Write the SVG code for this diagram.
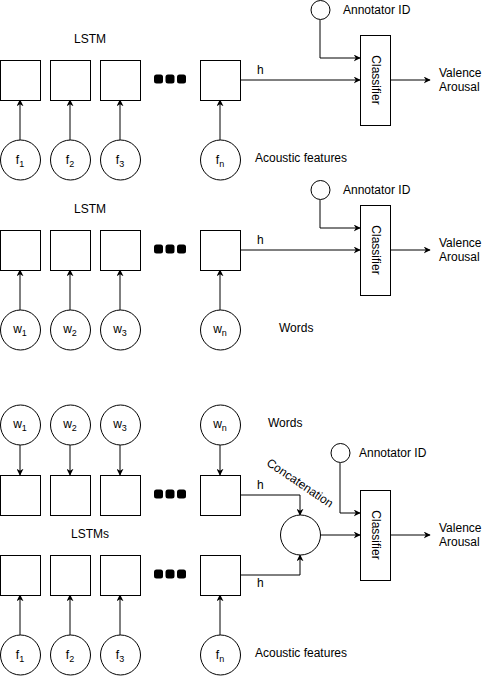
<svg xmlns="http://www.w3.org/2000/svg" width="482" height="676" viewBox="0 0 482 676">
<style>
.b{fill:#fff;stroke:#000;stroke-width:1}
.c{fill:#fff;stroke:#000;stroke-width:1}
.l{fill:none;stroke:#000;stroke-width:1}
.t{font-family:"Liberation Sans",Arial,sans-serif;font-size:12px;fill:#000}
.m{text-anchor:middle}
.d{fill:#000}
</style>
<defs>
<marker id="ah" viewBox="0 0 10 10" refX="9" refY="5" markerWidth="7" markerHeight="7" markerUnits="userSpaceOnUse" orient="auto">
<path d="M0,0 L10,5 L0,10 L3,5 Z" fill="#000"/>
</marker>
<g id="dots"><rect x="0" y="0" width="9" height="9" rx="2.5" class="d"/><rect x="11.5" y="0" width="9" height="9" rx="2.5" class="d"/><rect x="23" y="0" width="9" height="9" rx="2.5" class="d"/></g>
</defs>
<rect width="482" height="676" fill="#fff"/>

<g id="connectors">
<!-- section 1 -->
<path class="l" d="M20,140 V100" marker-end="url(#ah)"/>
<path class="l" d="M70,140 V100" marker-end="url(#ah)"/>
<path class="l" d="M120,140 V100" marker-end="url(#ah)"/>
<path class="l" d="M220,140 V100" marker-end="url(#ah)"/>
<path class="l" d="M240,80 H360" marker-end="url(#ah)"/>
<path class="l" d="M320,20 V58 H360" marker-end="url(#ah)"/>
<path class="l" d="M390,80 H430" marker-end="url(#ah)"/>
<!-- section 2 -->
<path class="l" d="M20,310 V270" marker-end="url(#ah)"/>
<path class="l" d="M70,310 V270" marker-end="url(#ah)"/>
<path class="l" d="M120,310 V270" marker-end="url(#ah)"/>
<path class="l" d="M220,310 V270" marker-end="url(#ah)"/>
<path class="l" d="M240,250 H360" marker-end="url(#ah)"/>
<path class="l" d="M320,200 V228 H360" marker-end="url(#ah)"/>
<path class="l" d="M390,250 H430" marker-end="url(#ah)"/>
<!-- section 3 -->
<path class="l" d="M20,445 V475" marker-end="url(#ah)"/>
<path class="l" d="M70,445 V475" marker-end="url(#ah)"/>
<path class="l" d="M120,445 V475" marker-end="url(#ah)"/>
<path class="l" d="M220,445 V475" marker-end="url(#ah)"/>
<path class="l" d="M20,635 V595" marker-end="url(#ah)"/>
<path class="l" d="M70,635 V595" marker-end="url(#ah)"/>
<path class="l" d="M120,635 V595" marker-end="url(#ah)"/>
<path class="l" d="M220,635 V595" marker-end="url(#ah)"/>
<path class="l" d="M240,495 H300 V515" marker-end="url(#ah)"/>
<path class="l" d="M240,575 H300 V555" marker-end="url(#ah)"/>
<path class="l" d="M320,535 H360" marker-end="url(#ah)"/>
<path class="l" d="M340,463 V513 H360" marker-end="url(#ah)"/>
<path class="l" d="M390,535 H430" marker-end="url(#ah)"/>
</g>

<!-- Section 1 -->
<g id="s1-lstm">
<text class="t m" x="90" y="43">LSTM</text>
<rect class="b" x="0.5" y="60.5" width="40" height="40"/>
<rect class="b" x="50.5" y="60.5" width="40" height="40"/>
<rect class="b" x="100.5" y="60.5" width="40" height="40"/>
<use href="#dots" x="154" y="74.5"/>
<rect class="b" x="200.5" y="60.5" width="40" height="40"/>
</g>
<g id="s1-f1"><circle class="c" cx="20.5" cy="160" r="20"/><text class="t m" x="20" y="164">f<tspan font-size="9" dy="3">1</tspan></text></g>
<g id="s1-f2"><circle class="c" cx="70.5" cy="160" r="20"/><text class="t m" x="70" y="164">f<tspan font-size="9" dy="3">2</tspan></text></g>
<g id="s1-f3"><circle class="c" cx="120.5" cy="160" r="20"/><text class="t m" x="120" y="164">f<tspan font-size="9" dy="3">3</tspan></text></g>
<g id="s1-fn"><circle class="c" cx="220.5" cy="160" r="20"/><text class="t m" x="220" y="164">f<tspan font-size="9" dy="3">n</tspan></text></g>
<text class="t" x="255" y="162">Acoustic features</text>
<text class="t" x="257" y="74">h</text>
<g id="s1-ann"><circle class="c" cx="320.5" cy="10" r="9.5"/><text class="t" x="343" y="14">Annotator ID</text></g>
<g id="s1-cls"><rect class="b" x="360.5" y="35.5" width="30" height="90"/><text class="t m" transform="translate(375.5,80) rotate(90)" y="4">Classifier</text></g>
<g id="s1-out"><text class="t" x="439" y="77">Valence</text><text class="t" x="439" y="91">Arousal</text></g>

<!-- Section 2 -->
<g id="s2-lstm">
<text class="t m" x="90" y="213">LSTM</text>
<rect class="b" x="0.5" y="230.5" width="40" height="40"/>
<rect class="b" x="50.5" y="230.5" width="40" height="40"/>
<rect class="b" x="100.5" y="230.5" width="40" height="40"/>
<use href="#dots" x="154" y="244.5"/>
<rect class="b" x="200.5" y="230.5" width="40" height="40"/>
</g>
<g id="s2-w1"><circle class="c" cx="20.5" cy="330" r="20"/><text class="t m" x="20" y="333">w<tspan font-size="9" dy="3">1</tspan></text></g>
<g id="s2-w2"><circle class="c" cx="70.5" cy="330" r="20"/><text class="t m" x="70" y="333">w<tspan font-size="9" dy="3">2</tspan></text></g>
<g id="s2-w3"><circle class="c" cx="120.5" cy="330" r="20"/><text class="t m" x="120" y="333">w<tspan font-size="9" dy="3">3</tspan></text></g>
<g id="s2-wn"><circle class="c" cx="220.5" cy="330" r="20"/><text class="t m" x="220" y="333">w<tspan font-size="9" dy="3">n</tspan></text></g>
<text class="t" x="279" y="332">Words</text>
<text class="t" x="257" y="244">h</text>
<g id="s2-ann"><circle class="c" cx="320.5" cy="190" r="9.5"/><text class="t" x="343" y="194">Annotator ID</text></g>
<g id="s2-cls"><rect class="b" x="360.5" y="205.5" width="30" height="90"/><text class="t m" transform="translate(375.5,250) rotate(90)" y="4">Classifier</text></g>
<g id="s2-out"><text class="t" x="439" y="247">Valence</text><text class="t" x="439" y="261">Arousal</text></g>

<!-- Section 3 -->
<g id="s3-w1"><circle class="c" cx="20.5" cy="425" r="20"/><text class="t m" x="20" y="428">w<tspan font-size="9" dy="3">1</tspan></text></g>
<g id="s3-w2"><circle class="c" cx="70.5" cy="425" r="20"/><text class="t m" x="70" y="428">w<tspan font-size="9" dy="3">2</tspan></text></g>
<g id="s3-w3"><circle class="c" cx="120.5" cy="425" r="20"/><text class="t m" x="120" y="428">w<tspan font-size="9" dy="3">3</tspan></text></g>
<g id="s3-wn"><circle class="c" cx="220.5" cy="425" r="20"/><text class="t m" x="220" y="428">w<tspan font-size="9" dy="3">n</tspan></text></g>
<text class="t" x="268" y="427">Words</text>
<g id="s3-lstm-top">
<rect class="b" x="0.5" y="475.5" width="40" height="40"/>
<rect class="b" x="50.5" y="475.5" width="40" height="40"/>
<rect class="b" x="100.5" y="475.5" width="40" height="40"/>
<use href="#dots" x="154" y="489.5"/>
<rect class="b" x="200.5" y="475.5" width="40" height="40"/>
</g>
<text class="t m" x="90" y="538">LSTMs</text>
<g id="s3-lstm-bot">
<rect class="b" x="0.5" y="555.5" width="40" height="40"/>
<rect class="b" x="50.5" y="555.5" width="40" height="40"/>
<rect class="b" x="100.5" y="555.5" width="40" height="40"/>
<use href="#dots" x="154" y="569.5"/>
<rect class="b" x="200.5" y="555.5" width="40" height="40"/>
</g>
<g id="s3-f1"><circle class="c" cx="20.5" cy="655" r="20"/><text class="t m" x="20" y="659">f<tspan font-size="9" dy="3">1</tspan></text></g>
<g id="s3-f2"><circle class="c" cx="70.5" cy="655" r="20"/><text class="t m" x="70" y="659">f<tspan font-size="9" dy="3">2</tspan></text></g>
<g id="s3-f3"><circle class="c" cx="120.5" cy="655" r="20"/><text class="t m" x="120" y="659">f<tspan font-size="9" dy="3">3</tspan></text></g>
<g id="s3-fn"><circle class="c" cx="220.5" cy="655" r="20"/><text class="t m" x="220" y="659">f<tspan font-size="9" dy="3">n</tspan></text></g>
<text class="t" x="255" y="657">Acoustic features</text>
<text class="t" x="257" y="489">h</text>
<text class="t" x="257" y="587">h</text>
<g id="s3-concat"><circle class="c" cx="300.5" cy="535" r="20"/><text class="t m" transform="translate(300,483) rotate(34)" y="4">Concatenation</text></g>
<g id="s3-ann"><circle class="c" cx="340.5" cy="453" r="9.5"/><text class="t" x="359" y="457">Annotator ID</text></g>
<g id="s3-cls"><rect class="b" x="360.5" y="490.5" width="30" height="90"/><text class="t m" transform="translate(375.5,535) rotate(90)" y="4">Classifier</text></g>
<g id="s3-out"><text class="t" x="439" y="532">Valence</text><text class="t" x="439" y="546">Arousal</text></g>
</svg>
